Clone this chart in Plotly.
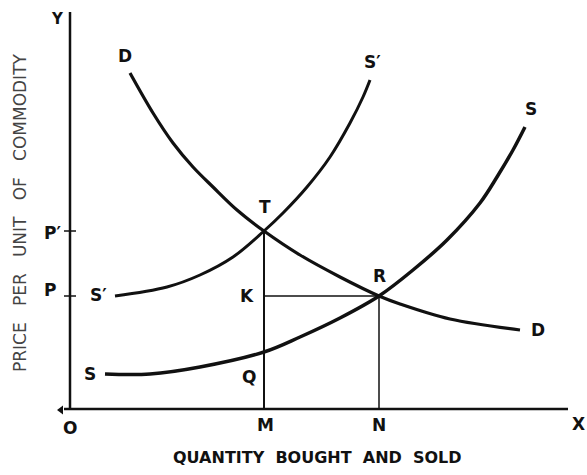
import plotly.graph_objects as go

# Curves (data units: origin O at 0,0)
demand_x = [60, 83, 103, 123, 143, 167, 194, 230, 270, 309, 330, 380, 450]
demand_y = [336, 296, 266, 242, 222, 199, 178, 154, 132, 113, 105, 90, 79]

supply_new_x = [45, 97, 130, 163, 194, 213, 237, 260, 280, 293, 300]
supply_new_y = [113, 122, 134, 152, 178, 196, 222, 252, 286, 312, 329]

supply_x = [35, 80, 130, 194, 230, 270, 309, 343, 377, 410, 427, 443, 455]
supply_y = [35, 35, 42, 57, 72, 91, 113, 139, 169, 206, 232, 259, 282]

# Key points
T = (194, 178)
R = (309, 113)
Q = (194, 57)
K = (194, 113)
M_x = 194
N_x = 309
P_y = 113
P2_y = 178
x_axis_end = 498
y_axis_end = 397

BLACK = "#111111"
FONT = "DejaVu Sans"

fig = go.Figure()

def seg(xs, ys, w, shape="linear"):
    fig.add_trace(go.Scatter(x=xs, y=ys, mode="lines", line_shape=shape,
                             line=dict(color=BLACK, width=w), hoverinfo="skip"))

# axes
seg([0, 0], [0, y_axis_end], 2.5)
seg([-6, x_axis_end], [0, 0], 2.5)
fig.add_trace(go.Scatter(x=[-9], y=[-1], mode="markers", hoverinfo="skip",
                         marker=dict(symbol="triangle-left", size=8, color=BLACK)))
# ticks at P and P'
for yy in (P_y, P2_y):
    seg([-6, 6], [yy, yy], 1.5)

# guide lines
seg([M_x, M_x], [0, T[1]], 2)
seg([N_x, N_x], [0, R[1]], 1.5)
seg([K[0], R[0]], [K[1], R[1]], 1.3)

# curves
seg(demand_x, demand_y, 3.2, "spline")
seg(supply_new_x, supply_new_y, 3, "spline")
seg(supply_x, supply_y, 3.5, "spline")

labels = [
    ("D", 55, 353), ("S\u2032", 302, 347), ("S", 461, 300),
    ("T", 195, 202), ("R", 309, 133), ("K", 177, 113), ("Q", 179, 32),
    ("D", 468, 79), ("S\u2032", 28, 114), ("S", 20, 35),
    ("P\u2032", -18, 176), ("P", -20, 119),
    ("O", 0, -19), ("M", 195, -16), ("N", 309, -16),
]
for txt, x, y in labels:
    fig.add_annotation(x=x, y=y, text="<b>" + txt + "</b>", showarrow=False,
                       font=dict(family=FONT, size=17, color=BLACK))
fig.add_annotation(x=-13, y=401, yanchor="top", text="<b>Y</b>", showarrow=False,
                   font=dict(family=FONT, size=15, color=BLACK))
fig.add_annotation(x=508, y=-15, text="<b>X</b>", showarrow=False,
                   font=dict(family=FONT, size=17, color=BLACK))

fig.add_annotation(x=247, y=-48, text="<b>QUANTITY  BOUGHT  AND  SOLD</b>", showarrow=False,
                   font=dict(family=FONT, size=16, color=BLACK))
fig.add_annotation(x=-50, y=196, text="PRICE   PER   UNIT   OF   COMMODITY", showarrow=False,
                   textangle=-90, font=dict(family=FONT, size=17, color="#444444"))

fig.update_layout(
    width=587, height=475,
    margin=dict(l=0, r=0, t=0, b=0),
    paper_bgcolor="white", plot_bgcolor="white",
    showlegend=False,
    xaxis=dict(range=[-70, 517], visible=False, fixedrange=True),
    yaxis=dict(range=[-66, 409], visible=False, fixedrange=True),
)

# remove the default page margin so the figure fills the window exactly
fig.write_html("out.html", config={"displayModeBar": False},
               post_script="document.body.style.margin='0';document.body.style.overflow='hidden';")
